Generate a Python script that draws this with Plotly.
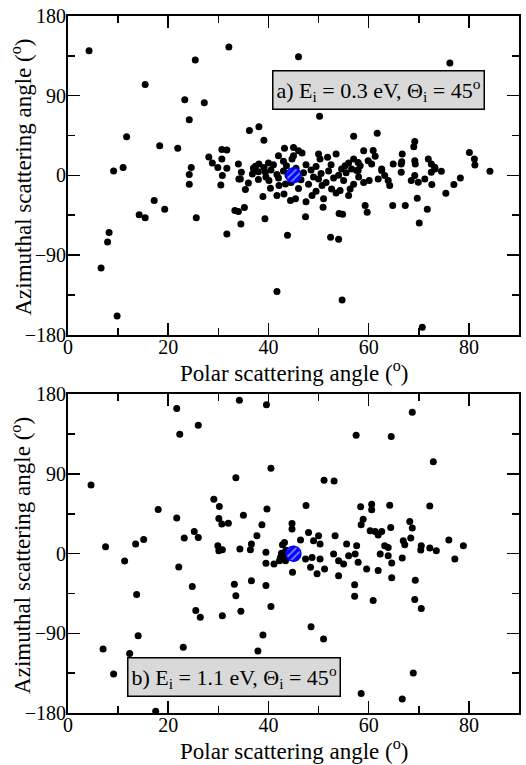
import numpy as np
import plotly.graph_objects as go

# ---------------- data ----------------
# panel a) E_i = 0.3 eV
theta_a = [4.2, 32.1, 25.4, 15.4, 23.3, 27.2, 24.2, 11.7, 36.2, 38.1, 39.1, 18.3, 21.9, 43.2, 42.0,
           28.1, 30.7, 31.7, 30.7, 28.8, 34.0, 38.1, 37.4, 24.6, 11.0, 9.1, 29.9, 31.7, 39.1, 43.6,
           24.2, 24.2, 30.8, 30.5, 34.6, 34.4, 34.1, 36.0, 35.4, 36.8, 38.0, 39.4, 40.1, 40.4, 38.9,
           41.7, 41.7, 42.1, 43.1, 43.4, 43.9, 17.2, 19.3, 14.2, 15.4, 25.6, 33.3, 34.0, 35.2, 34.5,
           39.3, 31.7, 43.8, 8.2, 7.9, 6.6, 9.8, 41.7,
           81.2, 84.2, 78.3, 77.0, 75.4, 72.6, 69.7, 71.7, 70.1, 67.3, 64.8, 59.3, 59.7, 54.1, 54.8,
           52.4, 54.0, 47.4, 50.9, 54.7, 70.7, 48.7, 45.4, 44.4, 60.1, 64.2, 63.9, 68.5, 69.2, 69.9,
           71.2, 72.5, 73.2, 74.5, 66.5, 66.5, 69.3, 61.9, 63.2, 62.6, 56.0, 56.3, 54.3, 52.6, 50.7,
           51.0, 50.0, 57.6, 58.3, 60.6,
           46.0, 76.2, 50.2, 57.0, 61.7, 69.2, 69.0, 59.0, 60.9, 61.3, 53.5, 50.0, 50.3, 51.8, 45.0,
           46.0, 46.7, 45.0, 44.7, 57.0, 57.9, 59.9, 62.6, 64.9, 66.6, 66.7, 69.2, 71.9, 72.5, 73.2,
           80.1, 81.1, 54.6, 55.3, 56.6, 57.9,
           37.0, 38.0, 39.5, 40.5, 41.0, 42.0, 43.0, 44.0, 44.5, 45.5, 46.5, 47.0, 47.5, 48.0, 48.5,
           49.0, 49.5, 50.5, 51.5, 52.0, 52.5, 53.0, 53.5, 54.0, 55.0, 55.5, 56.0, 57.0, 58.0, 59.0,
           46.0, 47.5, 49.5, 43.0, 40.0]
phi_a = [140.6, 145.1, 130.2, 102.7, 85.5, 82.1, 62.7, 43.5, 50.6, 54.8, 39.7, 33.4, 30.7, 30.7, 22.2,
         20.6, 29.3, 28.5, 18.3, 13.8, 12.7, 12.7, 10.1, 8.7, 8.7, 4.8, 8.7, 7.9, 8.7, 10.9,
         0.8, -10.1, -0.3, -10.9, 3.4, -4.2, -4.2, -8.7, -16.1, 1.5, -4.8, 3.4, -6.0, -14.6, -24.0,
         0.8, -22.8, -11.6, -21.0, -9.8, -0.3, -28.5, -38.3, -44.6, -48.0, -48.0, -39.7, -40.8, -36.3, -55.1,
         -49.2, -66.4, -67.8, -64.5, -75.4, -104.6, -159.0, -131.3,
         11.6, 4.5, -3.0, -10.5, -20.3, -10.5, -25.9, -38.3, -54.0, -34.1, -34.1, -34.1, -41.6, -43.1, -43.9,
         -70.1, -72.3, -46.9, -36.0, -141.0, -171.8, -22.8, -26.6, -28.5, -6.0, -11.6, -6.0, -6.0, -0.3, -7.9,
         -4.2, 3.4, 9.0, 4.5, 3.4, 12.7, 12.7, -4.2, -0.3, 5.3, -22.8, -15.4, -17.2, -15.4, -11.6,
         -26.6, -4.2, 5.3, 10.9, 12.7,
         133.9, 126.8, 66.7, 44.2, 47.6, 38.3, 32.3, 27.8, 28.1, 21.4, 24.0, 24.0, 18.3, 20.3, 31.5,
         27.8, 25.1, 22.2, 18.3, 18.3, 14.6, 16.5, 7.1, 12.7, 15.4, 24.0, 16.5, 18.3, 12.7, 7.1,
         25.9, 18.3, 7.1, 10.9, 7.1, 5.3,
         8.0, 4.0, -2.0, 6.0, 12.0, -3.0, 5.0, 2.0, -8.0, 8.0, -5.0, 3.0, 12.0, -10.0, 6.0,
         -2.0, 10.0, 2.0, -8.0, 5.0, 12.0, -3.0, -20.0, 0.0, -6.0, 3.0, 14.0, -10.0, -2.0, -8.0,
         -15.0, -30.0, -18.0, 16.0, 14.0]

# panel b) E_i = 1.1 eV
theta_b = [34.2, 39.6, 21.7, 26.0, 22.3, 4.6, 40.5, 33.5, 29.1, 30.2, 18.0, 39.7, 35.0,
           68.7, 57.5, 64.5, 72.9, 51.1, 53.1, 47.5, 58.4, 60.6, 60.6, 64.2, 72.2,
           21.7, 30.1, 30.7, 32.0, 38.7, 37.7, 36.6, 36.4, 34.3, 29.9, 30.1, 30.8, 25.2, 26.0, 23.2,
           15.1, 13.5, 7.5, 11.3, 22.1, 24.8, 13.7, 33.2, 33.5, 36.6, 39.5, 39.5, 39.5, 41.1,
           42.2, 42.8, 43.5, 43.0, 42.6, 40.5, 25.5, 26.4, 30.8, 34.5, 14.0, 38.9, 7.0, 12.3, 23.0,
           37.9, 9.1, 17.5,
           44.7, 44.7, 58.9, 58.5, 60.3, 61.3, 61.9, 62.6, 64.4, 68.2, 68.7, 66.9, 67.2, 68.4,
           70.5, 70.4, 72.2, 73.5, 76.0, 78.9, 77.2, 66.7,
           64.6, 63.9, 63.9, 63.2, 62.3, 61.9, 59.6, 57.9, 57.3, 57.6, 56.0, 55.6, 55.0, 54.0, 53.3,
           53.0, 54.0, 51.2, 50.0, 50.3, 50.3, 49.0, 48.7, 48.0, 48.4, 49.7, 47.4, 46.4, 44.8, 43.2,
           43.4, 42.4,
           57.2, 57.2, 60.9, 64.6, 69.3, 69.2, 70.5, 48.5, 51.0, 68.9, 58.5, 66.7]
phi_b = [173.3, 168.4, 163.9, 145.1, 135.0, 77.6, 96.4, 85.8, 61.5, 53.2, 49.8, 50.6, 43.5,
         159.8, 133.9, 132.4, 103.8, 82.9, 82.1, 54.3, 52.9, 55.9, 49.5, 54.8, 54.0,
         40.2, 39.7, 33.4, 34.5, 32.6, 20.3, 10.9, 4.5, 5.3, 9.0, 3.4, 4.5, 25.1, 18.3, 17.7,
         16.1, 10.9, 7.9, -8.2, -15.0, -37.1, -46.1, -34.5, -47.6, -30.7, -36.0, 1.5, -10.9, -11.6,
         -8.0, 10.0, 4.0, -3.0, 0.5, -59.6, -64.1, -71.7, -70.1, -64.9, -92.6, -91.9, -107.7, -112.8, -105.7,
         -109.9, -135.8, -178.0,
         34.1, 27.8, 39.0, 32.6, 25.9, 25.1, 21.0, 25.1, 29.6, 36.3, 28.9, 14.6, 10.1, 17.7,
         9.0, 4.2, 6.4, 3.4, 15.4, 9.0, -6.0, -4.8,
         -10.5, -2.3, 7.1, 9.0, -0.3, -19.1, -17.2, -9.8, -0.3, 9.0, -2.3, 10.9, -11.6, -7.9, 20.3,
         -0.3, -24.8, -17.2, 20.3, 10.9, -6.0, 14.6, -4.2, 24.0, -15.4, -22.8, -6.0, 15.4, -21.0, 12.7,
         -7.9, -4.2,
         -35.2, -48.0, -52.9, -27.3, -30.0, -51.8, -61.9, -82.5, -96.4, -134.7, -158.0, -164.3]

incident_theta = [45.0]
incident_phi = [0.0]

x_tick_vals = [0, 20, 40, 60, 80]
y_tick_vals = [-180, -90, 0, 90, 180]
x_title = "Polar scattering angle (<sup>o</sup>)"
y_title = "Azimuthal scattering angle (<sup>o</sup>)"
label_a = "a) E<sub>i</sub> = 0.3 eV, Θ<sub>i</sub> = 45<sup>o</sup>"
label_b = "b) E<sub>i</sub> = 1.1 eV, Θ<sub>i</sub> = 45<sup>o</sup>"

# ---------------- layout geometry ----------------
W, H = 526, 765
ML, MR, MT, MB = 68, 5, 13, 52
PLOT_W = W - ML - MR
PLOT_H = H - MT - MB
PANEL_FRAC = 320 / PLOT_H
FONT = "Liberation Serif"

fig = go.Figure()

def add_panel(xs, ys, xa, ya):
    fig.add_trace(go.Scatter(x=xs, y=ys, mode="markers", xaxis=xa, yaxis=ya,
                             marker=dict(color="black", size=7, line=dict(width=0)),
                             showlegend=False, hoverinfo="skip"))

def add_incident(xa, ya):
    # hatched blue disc around the incident direction
    r_px = 7.5
    px_x = PLOT_W / 90.0
    px_y = (PLOT_H * PANEL_FRAC) / 360.0
    t = np.linspace(0, 2 * np.pi, 60)
    cx, cy = incident_theta[0], incident_phi[0]
    fig.add_trace(go.Scatter(x=cx + r_px / px_x * np.cos(t), y=cy + r_px / px_y * np.sin(t),
                             mode="lines", fill="toself", xaxis=xa, yaxis=ya,
                             line=dict(color="#0000ff", width=1.5),
                             fillcolor="rgba(0,0,0,0)",
                             fillpattern=dict(shape="/", fgcolor="white", bgcolor="#0000ff",
                                              size=5, solidity=0.35),
                             showlegend=False, hoverinfo="skip"))

add_panel(theta_a, phi_a, "x", "y")
add_incident("x", "y")
add_panel(theta_b, phi_b, "x2", "y2")
add_incident("x2", "y2")

tickfont = dict(family=FONT, size=20, color="black")
titlefont = dict(family=FONT, size=23, color="black")
xcommon = dict(range=[0, 90], tickvals=x_tick_vals, ticks="inside", ticklen=12, tickwidth=1.5,
               tickcolor="black", showline=True, linecolor="black", linewidth=2, mirror="ticks",
               showgrid=False, zeroline=False, tickfont=tickfont, ticklabelstandoff=-7,
               minor=dict(tickvals=[10, 30, 50, 70, 90], ticks="inside", ticklen=7, tickwidth=1.5,
                          tickcolor="black", showgrid=False))
ycommon = dict(range=[-180, 180], tickvals=y_tick_vals, ticks="inside", ticklen=12, tickwidth=1.5,
               tickcolor="black", showline=True, linecolor="black", linewidth=2, mirror="ticks",
               showgrid=False, zeroline=False, tickfont=tickfont, ticklabelstandoff=-4,
               minor=dict(tickvals=[-135, -45, 45, 135], ticks="inside", ticklen=7, tickwidth=1.5,
                          tickcolor="black", showgrid=False))

top_lo = 1 - PANEL_FRAC
fig.update_layout(
    width=W, height=H,
    margin=dict(l=ML, r=MR, t=MT, b=MB),
    paper_bgcolor="white", plot_bgcolor="white",
    font=dict(family=FONT, color="black"),
    xaxis=dict(xcommon, anchor="y", domain=[0, 1]),
    yaxis=dict(ycommon, anchor="x", domain=[top_lo, 1]),
    xaxis2=dict(xcommon, anchor="y2", domain=[0, 1]),
    yaxis2=dict(ycommon, anchor="x2", domain=[0, PANEL_FRAC]),
)

# axis titles (placed explicitly so they sit like the reference)
def py_to_paper(py):
    return (H - MB - py) / PLOT_H

def px_to_paper(px):
    return (px - ML) / PLOT_W

for ty in (370, 750):
    fig.add_annotation(text=x_title, xref="paper", yref="paper", x=0.5, y=py_to_paper(ty),
                       xanchor="center", yanchor="middle", showarrow=False, font=titlefont)
for cy in (175, 555):
    fig.add_annotation(text=y_title, xref="paper", yref="paper", x=px_to_paper(21), y=py_to_paper(cy),
                       xanchor="center", yanchor="middle", textangle=-90, showarrow=False,
                       font=titlefont)

box = dict(showarrow=False, font=dict(family=FONT, size=22, color="black"),
           bgcolor="#d9d9d9", bordercolor="black", borderwidth=1.5, borderpad=3,
           xanchor="center", yanchor="middle")
fig.add_annotation(text=label_a, xref="x domain", yref="y domain", x=0.689, y=0.769, **box)
fig.add_annotation(text=label_b, xref="x2 domain", yref="y2 domain", x=0.369, y=0.114, **box)

# the page body gets no default 8px margin, so the figure fills the window exactly
fig.write_html("out.html",
               config={"displayModeBar": False, "staticPlot": True},
               post_script="document.body.style.margin='0px';document.body.style.padding='0px';"
                           "document.body.style.overflow='hidden';")
